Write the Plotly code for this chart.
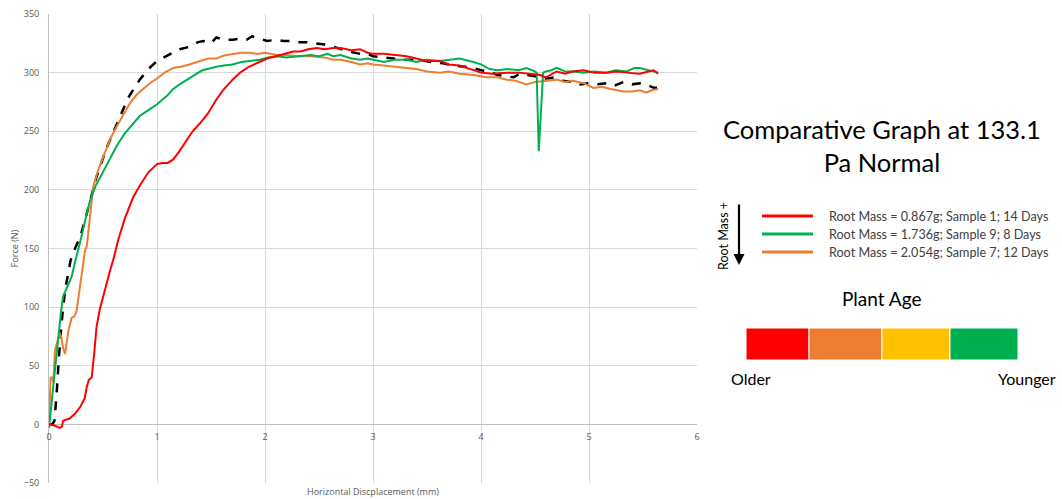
import plotly.graph_objects as go

# ---------------- data ----------------
avg_pts = [(0,0),(0.03,0),(0.05,3),(0.07,25),(0.09,55),(0.12,90),(0.15,115),(0.2,140),(0.25,152),(0.29,160),
           (0.35,180),(0.44,211),(0.53,235),(0.63,257),(0.73,278),(0.84,294),(0.92,303),(1.0,310),(1.1,315),(1.21,320),
           (1.3,322),(1.38,326),(1.43,327),(1.5,325),(1.55,330),(1.62,328),(1.7,328),(1.77,329),(1.83,328),(1.88,331),
           (1.95,329),(2.02,327),(2.1,328),(2.17,327),(2.23,327),(2.3,326),(2.38,326),(2.48,325),(2.55,324),(2.63,322),
           (2.7,320),(2.78,318),(2.88,316),(2.95,316),(3.0,314),(3.1,313),(3.2,312),(3.3,311),(3.4,311),(3.46,310),
           (3.55,309),(3.65,308),(3.75,306),(3.85,305),(3.93,304),(4.0,302),(4.08,301),(4.15,298),(4.24,297),(4.3,296),
           (4.36,299),(4.42,298),(4.5,297),(4.55,295),(4.61,295),(4.68,296),(4.75,293),(4.85,292),(4.92,290),(5.0,291),
           (5.08,290),(5.16,291),(5.24,289),(5.32,292),(5.4,290),(5.47,291),(5.55,289),(5.6,287),(5.63,287)]

red_pts = [(0,0),(0.05,-1),(0.1,-3),(0.12,-2),(0.13,3),(0.19,5),(0.24,9),(0.29,15),(0.33,22),(0.35,32),
           (0.37,38),(0.395,40),(0.42,62),(0.44,83),(0.47,98),(0.5,109),(0.53,120),(0.565,131),(0.6,142),(0.64,157),
           (0.7,175),(0.78,194),(0.85,205),(0.92,215),(1.0,222),(1.05,223),(1.1,223),(1.15,226),(1.2,232),(1.275,243),
           (1.33,250),(1.4,257),(1.47,265),(1.55,277),(1.62,286),(1.7,294),(1.77,300),(1.85,305),(1.93,308),(2.02,312),
           (2.1,314),(2.18,316),(2.26,318),(2.33,318),(2.4,320),(2.48,321),(2.55,320),(2.63,321),(2.7,321),(2.8,319),
           (2.88,320),(2.95,317),(3.0,316),(3.1,316),(3.2,315),(3.31,314),(3.4,312),(3.5,310),(3.62,310),(3.7,307),
           (3.8,306),(3.93,302),(4.0,300),(4.1,299),(4.24,300),(4.35,300),(4.45,299),(4.55,298),(4.6,296),(4.7,301),
           (4.78,299),(4.85,301),(4.95,302),(5.05,300),(5.16,300),(5.25,301),(5.35,300),(5.47,299),(5.55,301),(5.6,302),
           (5.64,299)]

green_pts = [(0,-3),(0.02,15),(0.04,35),(0.06,55),(0.086,77),(0.11,95),(0.13,109),(0.17,118),(0.21,126),(0.24,138),
             (0.27,148),(0.3,160),(0.34,176),(0.38,191),(0.43,203),(0.5,215),(0.565,226),(0.63,238),(0.7,248),(0.77,256),
             (0.84,263),(0.92,268),(1.0,273),(1.09,280),(1.15,286),(1.21,290),(1.275,294),(1.35,298),(1.42,302),(1.5,304),
             (1.55,305),(1.62,306),(1.7,307),(1.78,309),(1.86,310),(1.95,311),(2.03,313),(2.11,314),(2.2,313),(2.3,314),
             (2.42,315),(2.5,314),(2.58,316),(2.63,314),(2.7,315),(2.8,312),(2.88,311),(2.95,312),(3.0,311),(3.1,309),
             (3.2,311),(3.31,311),(3.4,309),(3.5,311),(3.62,310),(3.7,311),(3.8,312),(3.93,309),(4.0,307),(4.08,303),
             (4.15,302),(4.25,303),(4.35,302),(4.42,304),(4.48,302),(4.515,300),(4.535,233),(4.575,300),(4.6,301),(4.65,302),
             (4.7,304),(4.78,301),(4.85,301),(4.95,300),(5.05,301),(5.16,300),(5.25,302),(5.35,301),(5.42,304),(5.47,304),
             (5.55,302),(5.6,301),(5.64,300)]

orange_pts = [(0,-3),(0.01,20),(0.015,40),(0.03,40),(0.04,36),(0.055,63),(0.08,72),(0.1,78),(0.115,74),(0.13,65),
              (0.148,60),(0.165,72),(0.18,80),(0.21,91),(0.235,92),(0.256,97),(0.28,112),(0.3,126),(0.333,148),(0.35,152),
              (0.38,180),(0.41,203),(0.46,218),(0.51,230),(0.565,243),(0.62,253),(0.68,263),(0.75,274),(0.82,282),(0.88,287),
              (0.935,291),(1.0,295),(1.07,300),(1.15,304),(1.22,305),(1.3,307),(1.4,310),(1.47,312),(1.55,312),(1.6,314),
              (1.645,315),(1.7,316),(1.78,317),(1.86,317),(1.93,316),(2.0,317),(2.11,315),(2.2,315),(2.3,314),(2.42,314),
              (2.5,313),(2.55,313),(2.63,311),(2.7,311),(2.8,309),(2.88,307),(2.95,308),(3.0,307),(3.1,306),(3.2,305),
              (3.31,304),(3.4,303),(3.5,301),(3.62,300),(3.7,301),(3.8,299),(3.93,298),(4.05,296),(4.15,296),(4.24,294),
              (4.32,293),(4.38,291),(4.42,290),(4.5,292),(4.61,293),(4.7,294),(4.78,292),(4.85,293),(4.95,291),(5.04,287),
              (5.12,288),(5.2,286),(5.32,284),(5.4,284),(5.47,285),(5.53,283),(5.58,285),(5.64,286)]

legend_labels = ["Root Mass = 0.867g; Sample 1; 14 Days",
                 "Root Mass = 1.736g; Sample 9; 8 Days",
                 "Root Mass = 2.054g; Sample 7; 12 Days"]
legend_colors = ["#FF0000", "#00B050", "#ED7D31"]
age_colors = ["#FF0000", "#ED7D31", "#FFC000", "#00B050"]
x_ticks = [0, 1, 2, 3, 4, 5, 6]
y_ticks = [-50, 0, 50, 100, 150, 200, 250, 300, 350]

# ---------------- layout geometry ----------------
W, H = 1062, 499
L, R, T, B = 49, 697, 14, 483


def px(X):
    return (X - L) / (R - L)


def py(Y):
    return (B - Y) / (B - T)


fig = go.Figure()

series = [(avg_pts, "#000000", "dash", 2.5),
          (orange_pts, "#ED7D31", "solid", 2),
          (green_pts, "#00B050", "solid", 2),
          (red_pts, "#FF0000", "solid", 2)]
for pts, col, dash, w in series:
    fig.add_trace(go.Scatter(x=[p[0] for p in pts], y=[p[1] for p in pts], mode="lines",
                             line=dict(color=col, width=w, dash=dash), showlegend=False,
                             hoverinfo="skip"))

ax_font = dict(family="Open Sans, Arial", size=9, color="#595959")
fig.update_layout(
    width=W, height=H,
    margin=dict(l=L, r=W - R, t=T, b=H - B, autoexpand=False),
    paper_bgcolor="white", plot_bgcolor="white",
    xaxis=dict(range=[0, 6], tickvals=x_ticks, showgrid=True, gridcolor="#d9d9d9", gridwidth=1,
               zeroline=False, showline=False, tickfont=ax_font, anchor="free", automargin=False,
               position=(0 - (-50)) / 400, ticks="", ticklabelstandoff=6),
    yaxis=dict(range=[-50, 350], tickvals=y_ticks, showgrid=True, gridcolor="#d9d9d9", gridwidth=1,
               zeroline=True, zerolinecolor="#bfbfbf", zerolinewidth=1.3, automargin=False,
               showline=True, linecolor="#bfbfbf", linewidth=1, tickfont=ax_font,
               ticklabelstandoff=7,
               title=dict(text="Force (N)", font=ax_font, standoff=3), ticks=""),
    font=dict(family="Lato, Open Sans, Arial"),
)

annos = []
shapes = []
# x axis title
annos.append(dict(x=px(373), y=py(492), xref="paper", yref="paper", text="Horizontal Discplacement (mm)",
                  showarrow=False, font=ax_font, xanchor="center", yanchor="middle"))
# big title
annos.append(dict(x=px(882), y=py(145), xref="paper", yref="paper",
                  text="Comparative Graph at 133.1<br>Pa Normal", showarrow=False,
                  font=dict(family="Lato", size=25.5, color="#000000"), xanchor="center", yanchor="middle",
                  align="center"))
# legend
rows_y = [216, 234, 252]
for lab, col, yy in zip(legend_labels, legend_colors, rows_y):
    shapes.append(dict(type="line", xref="paper", yref="paper", x0=px(762), x1=px(813), y0=py(yy), y1=py(yy),
                       line=dict(color=col, width=3)))
    annos.append(dict(x=px(827), y=py(yy), xref="paper", yref="paper", text=lab, showarrow=False,
                      font=dict(family="Lato", size=12.6, color="#404040"), xanchor="left", yanchor="middle"))
# root mass arrow + rotated label
annos.append(dict(x=px(739), y=py(265), xref="paper", yref="paper", ax=0, ay=-62, text="",
                  showarrow=True, arrowhead=2, arrowsize=1, arrowwidth=2.2, arrowcolor="#000000"))
annos.append(dict(x=px(723), y=py(236), xref="paper", yref="paper", text="Root Mass +", textangle=-90,
                  showarrow=False, font=dict(family="Lato", size=12.5, color="#000000"),
                  xanchor="center", yanchor="middle"))
# plant age
annos.append(dict(x=px(881), y=py(298), xref="paper", yref="paper", text="Plant Age", showarrow=False,
                  font=dict(family="Lato", size=19, color="#000000"), xanchor="center", yanchor="middle"))
bounds = [746, 809, 882, 950, 1018]
for i, c in enumerate(age_colors):
    shapes.append(dict(type="rect", xref="paper", yref="paper", x0=px(bounds[i]), x1=px(bounds[i + 1]),
                       y0=py(360), y1=py(328), fillcolor=c, line=dict(color="white", width=1)))
annos.append(dict(x=px(729), y=py(378), xref="paper", yref="paper", text="Older", showarrow=False,
                  font=dict(family="Lato", size=16, color="#000000"), xanchor="left", yanchor="middle"))
annos.append(dict(x=px(1058), y=py(378), xref="paper", yref="paper", text="Younger", showarrow=False,
                  font=dict(family="Lato", size=16, color="#000000"), xanchor="right", yanchor="middle"))

fig.update_layout(annotations=annos, shapes=shapes)
fig.write_html("out.html")
